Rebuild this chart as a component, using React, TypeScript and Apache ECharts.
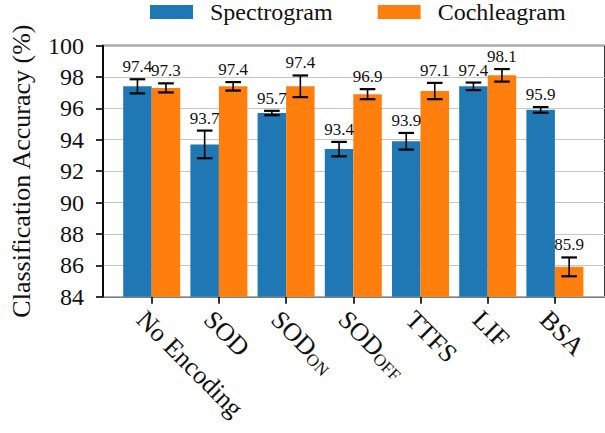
import React, { useEffect, useRef } from "react";
import * as echarts from "echarts";

const categories = ["No Encoding", "SOD", "SOD_ON", "SOD_OFF", "TTFS", "LIF", "BSA"];
const spectrogram = [97.4, 93.7, 95.7, 93.4, 93.9, 97.4, 95.9];
const spectrogramErr = [0.45, 0.88, 0.14, 0.46, 0.53, 0.24, 0.18];
const cochleagram = [97.3, 97.4, 97.4, 96.9, 97.1, 98.1, 85.9];
const cochleagramErr = [0.29, 0.27, 0.69, 0.32, 0.52, 0.4, 0.6];
const seriesNames = ["Spectrogram", "Cochleagram"];
const yTicks = { min: 84, max: 100, interval: 2 };

const FONT = "Liberation Serif";
const BAR_W = 28.5;
const COLORS = ["#1f77b4", "#ff7f0e"];

function errSeries(vals: number[], errs: number[], dir: number) {
  return {
    type: "custom",
    xAxisIndex: 1,
    yAxisIndex: 1,
    z: 10,
    silent: true,
    data: vals.map((v, i) => [i, v, errs[i]]),
    encode: { x: 0, y: 1 },
    renderItem: (params: any, api: any) => {
      const i = api.value(0);
      const v = api.value(1);
      const e = api.value(2);
      const top = api.coord([i, v + e]);
      const bot = api.coord([i, v - e]);
      const x = top[0] + (dir * BAR_W) / 2;
      const cap = 7.8;
      const stroke = { stroke: "#000", lineWidth: 1.6 };
      const capStroke = { stroke: "#000", lineWidth: 2.2 };
      return {
        type: "group",
        children: [
          { type: "line", shape: { x1: x, y1: top[1], x2: x, y2: bot[1] }, style: stroke },
          { type: "line", shape: { x1: x - cap, y1: top[1], x2: x + cap, y2: top[1] }, style: capStroke },
          { type: "line", shape: { x1: x - cap, y1: bot[1], x2: x + cap, y2: bot[1] }, style: capStroke },
          {
            type: "text",
            x: x,
            y: top[1] - 4,
            style: {
              text: v.toFixed(1),
              fill: "#111",
              font: "17px Liberation Serif",
              align: "center",
              verticalAlign: "bottom",
            },
          },
        ],
      };
    },
  };
}

export default function App() {
  const ref = useRef<HTMLDivElement>(null);
  useEffect(() => {
    if (!ref.current) return;
    const chart = echarts.init(ref.current, undefined, { renderer: "svg" });
    const option: any = {
      animation: false,
      backgroundColor: "#fff",
      legend: {
        data: seriesNames,
        left: 150,
        top: 0,
        padding: 0,
        icon: "rect",
        itemWidth: 43,
        itemHeight: 14,
        itemGap: 45,
        textStyle: { fontSize: 24, fontFamily: FONT, color: "#111", padding: [0, 0, 0, 12] },
      },
      grid: [
        {
          left: 101,
          right: -2,
          top: 45.5,
          bottom: 136.3,
          show: true,
          borderColor: "#000",
          borderWidth: 1.6,
          backgroundColor: "transparent",
        },
        { left: 118.1, right: 16.5, top: 45.5, bottom: 136.3 },
      ],
      xAxis: [
        {
          gridIndex: 0,
          type: "value",
          min: 0,
          max: 1,
          axisLine: { show: false },
          axisTick: { show: false },
          axisLabel: { show: false },
          splitLine: { show: false },
        },
        {
          gridIndex: 1,
          type: "category",
          data: categories,
          axisLine: { show: false },
          axisTick: {
            show: true,
            alignWithLabel: true,
            length: 7,
            lineStyle: { color: "#000", width: 1.6 },
          },
          axisLabel: {
            rotate: -45,
            align: "left",
            verticalAlign: "top",
            margin: 8,
            interval: 0,
            fontSize: 26,
            fontFamily: FONT,
            color: "#111",
            formatter: (val: string) => {
              if (val === "SOD_ON") return "{a|SOD}{s|ON}";
              if (val === "SOD_OFF") return "{a|SOD}{s|OFF}";
              return "{a|" + val + "}";
            },
            rich: {
              a: { fontSize: 26, fontFamily: FONT, color: "#111", lineHeight: 30 },
              s: { fontSize: 17, fontFamily: FONT, color: "#111", padding: [11, 0, 0, 0] },
            },
          },
        },
      ],
      yAxis: [
        {
          gridIndex: 0,
          type: "value",
          min: yTicks.min,
          max: yTicks.max,
          interval: yTicks.interval,
          name: "Classification Accuracy (%)",
          nameLocation: "middle",
          nameGap: 69,
          nameTextStyle: { fontSize: 26, fontFamily: FONT, color: "#111" },
          axisLine: { show: true, lineStyle: { color: "#000", width: 1.6 } },
          axisTick: { show: true, length: 7, lineStyle: { color: "#000", width: 1.6 } },
          axisLabel: { fontSize: 24, fontFamily: FONT, color: "#111", margin: 19 },
          splitLine: { show: true, lineStyle: { color: "#c0c0c0", width: 0.9 } },
        },
        {
          gridIndex: 1,
          type: "value",
          min: yTicks.min,
          max: yTicks.max,
          interval: yTicks.interval,
          show: false,
          splitLine: { show: false },
        },
      ],
      series: [
        {
          name: seriesNames[0],
          type: "bar",
          xAxisIndex: 1,
          yAxisIndex: 1,
          data: spectrogram,
          barWidth: BAR_W,
          barGap: "0%",
          itemStyle: { color: COLORS[0] },
        },
        {
          name: seriesNames[1],
          type: "bar",
          xAxisIndex: 1,
          yAxisIndex: 1,
          data: cochleagram,
          barWidth: BAR_W,
          barGap: "0%",
          itemStyle: { color: COLORS[1] },
        },
        errSeries(spectrogram, spectrogramErr, -1),
        errSeries(cochleagram, cochleagramErr, 1),
      ],
    };
    chart.setOption(option);
    return () => chart.dispose();
  }, []);
  return (
    <div
      ref={ref}
      style={{ position: "fixed", left: 0, top: 0, width: 605, height: 433, background: "#fff" }}
    />
  );
}
